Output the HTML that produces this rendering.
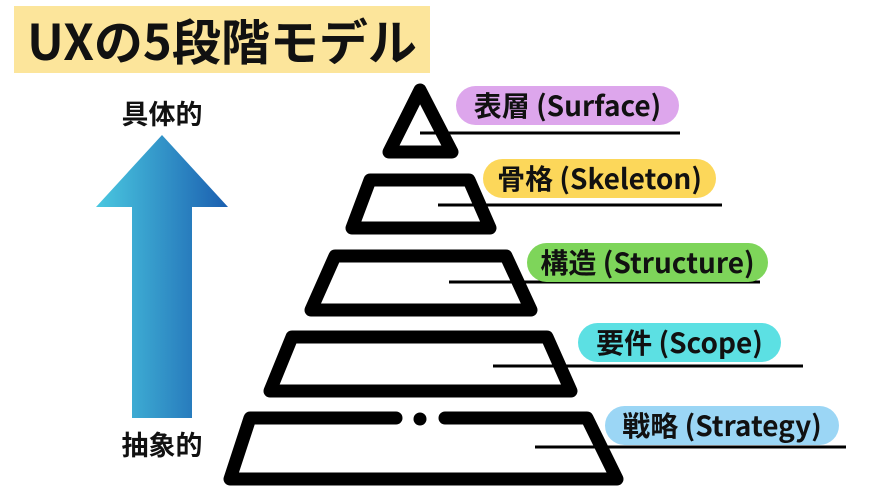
<!DOCTYPE html>
<html><head><meta charset="utf-8"><style>
html,body{margin:0;padding:0;background:#fff;}
body{width:876px;height:493px;overflow:hidden;position:relative;font-family:"Liberation Sans","Noto Sans CJK JP",sans-serif;}
.t{position:absolute;left:14px;top:6px;width:416px;height:67px;background:#fce59b;font-weight:bold;font-size:49px;line-height:67px;text-align:center;color:#111;font-family:"Noto Sans CJK JP",sans-serif;letter-spacing:0px;white-space:nowrap;}
.pill{position:absolute;height:39px;border-radius:20px;font-weight:bold;font-size:28px;line-height:39px;text-align:center;color:#111;font-family:"Noto Sans CJK JP",sans-serif;white-space:nowrap;}
.lbl{position:absolute;font-weight:bold;font-size:27px;color:#111;font-family:"Noto Sans CJK JP",sans-serif;width:120px;text-align:center;line-height:32px;}
</style></head><body>
<div class="t">UXの5段階モデル</div>
<svg width="876" height="493" style="position:absolute;left:0;top:0">
<defs><linearGradient id="g" x1="0" x2="1" y1="0" y2="0"><stop offset="0" stop-color="#4ac8e0"/><stop offset="1" stop-color="#1b5fb0"/></linearGradient></defs>
<polygon points="162,135 228,207 192,207 192,418 132,418 132,207 96,207" fill="url(#g)"/>
<g fill="none" stroke="#000" stroke-width="13" stroke-linejoin="round" stroke-linecap="round">
<polygon points="420,90 452,152 389,152"/>
<polygon points="370,180 469,180 490,228 352,228"/>
<polygon points="335,256 506,256 531,310 311,310"/>
<polygon points="292,337 547,337 571,391 270,391"/>
<polyline points="396,418 250,418 230,479 617,479 587,418 445,418"/>
</g>
<circle cx="420" cy="419" r="6.5" fill="#000"/>
<g stroke="#000" stroke-width="3">
<line x1="420" y1="133" x2="680" y2="133"/>
<line x1="438" y1="205" x2="722" y2="205"/>
<line x1="449" y1="282" x2="760" y2="282"/>
<line x1="493" y1="366" x2="803" y2="366"/>
<line x1="535" y1="447" x2="846" y2="447"/>
</g>
</svg>
<div class="pill" style="left:456px;top:86px;width:223px;background:#dda6ec">表層 (Surface)</div>
<div class="pill" style="left:483px;top:159px;width:233px;background:#fcd75a">骨格 (Skeleton)</div>
<div class="pill" style="left:527px;top:243px;width:241px;background:#7ed55a">構造 (Structure)</div>
<div class="pill" style="left:578px;top:323px;width:203px;background:#5ce0e3">要件 (Scope)</div>
<div class="pill" style="left:605px;top:406px;width:234px;background:#9bd6f5">戦略 (Strategy)</div>
<div class="lbl" style="left:102px;top:97px">具体的</div>
<div class="lbl" style="left:102px;top:428px">抽象的</div>
</body></html>
